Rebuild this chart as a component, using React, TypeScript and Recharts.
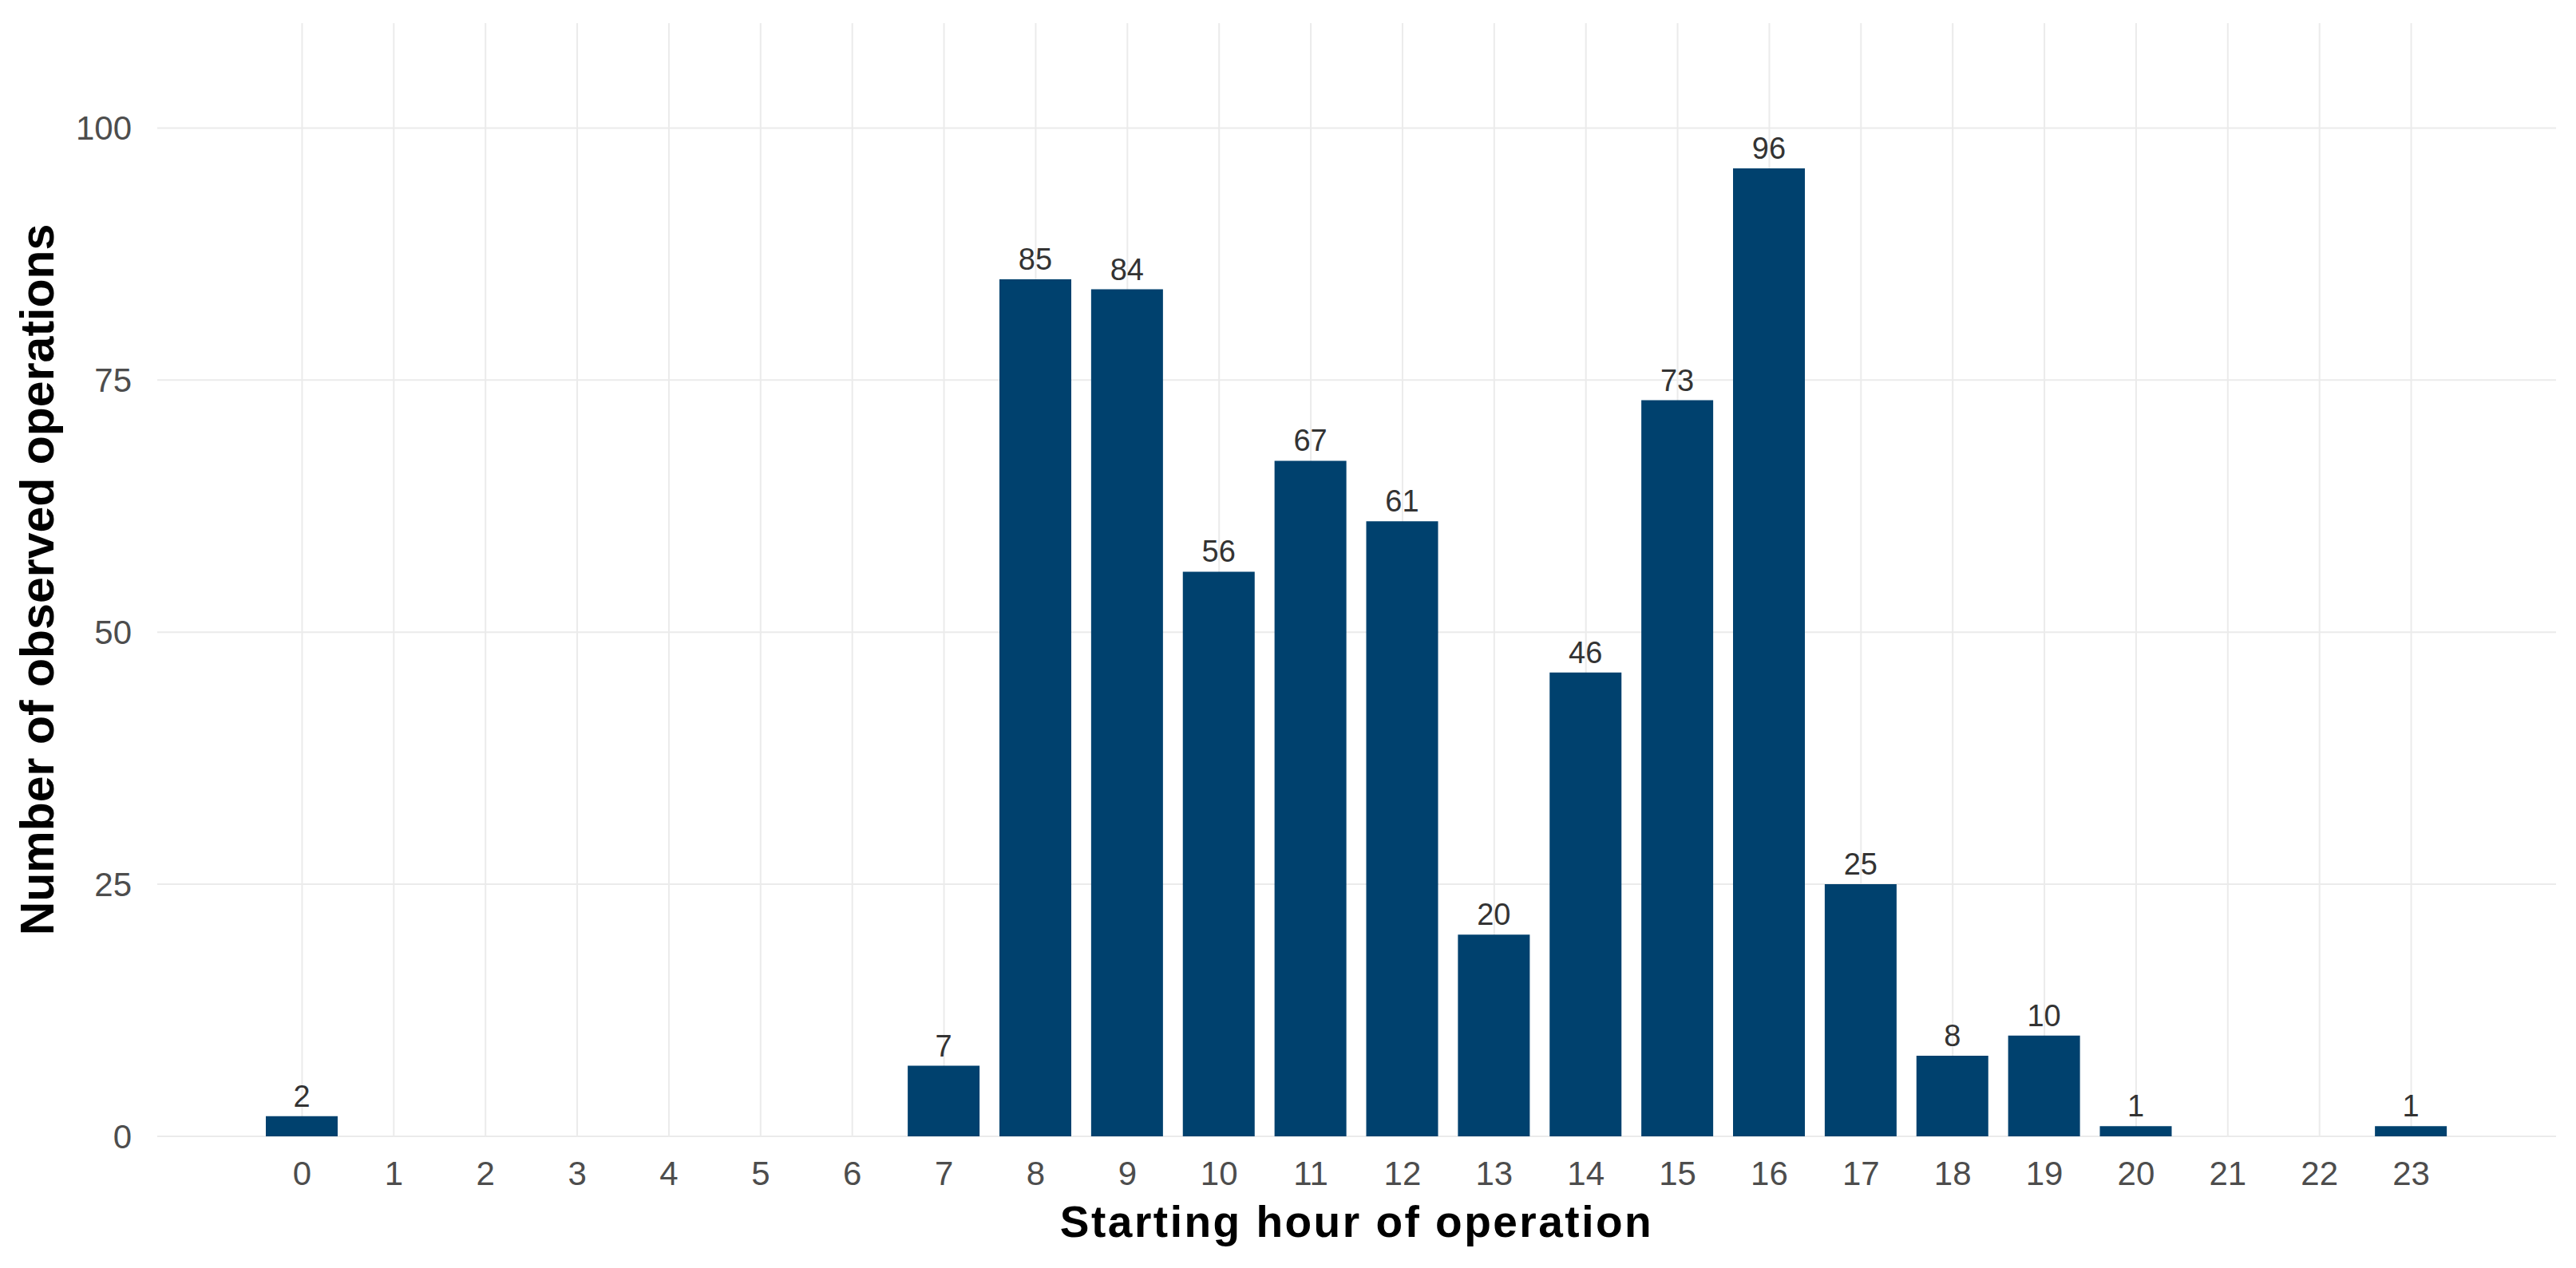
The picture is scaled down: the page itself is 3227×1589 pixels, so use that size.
import React from 'react';
import { BarChart, Bar, XAxis, YAxis, CartesianGrid, LabelList, Label } from 'recharts';

const hours = ['0', '1', '2', '3', '4', '5', '6', '7', '8', '9', '10', '11', '12', '13', '14', '15', '16', '17', '18', '19', '20', '21', '22', '23'];
const counts = [2, 0, 0, 0, 0, 0, 0, 7, 85, 84, 56, 67, 61, 20, 46, 73, 96, 25, 8, 10, 1, 0, 0, 1];
const yTicks = [0, 25, 50, 75, 100];

const data = hours.map((hour, i) => ({ hour, count: counts[i] }));

const FONT = '"Liberation Sans", Arial, sans-serif';

export default function App() {
  return (
    <div style={{ position: 'absolute', left: 0, top: 0, background: '#fff' }}>
      <BarChart
        width={3227}
        height={1589}
        data={data}
        margin={{ top: 29, right: 25, bottom: 0, left: 0 }}
        style={{ fontFamily: FONT }}
      >
        <CartesianGrid stroke="#EBEBEB" strokeWidth={2} syncWithTicks />
        <XAxis
          dataKey="hour"
          type="category"
          height={165}
          padding={{ left: 124, right: 124 }}
          axisLine={false}
          tickLine={false}
          tickSize={0}
          tickMargin={31}
          interval={0}
          tick={{ fontSize: 42, fill: '#4D4D4D', fontFamily: FONT }}
        >
          <Label
            value="Starting hour of operation"
            position="insideBottom"
            offset={39}
            style={{ fontSize: 55, fontWeight: 'bold', fill: '#000', letterSpacing: 2.5, fontFamily: FONT }}
          />
        </XAxis>
        <YAxis
          type="number"
          width={197}
          domain={[0, 110.4]}
          ticks={yTicks}
          axisLine={false}
          tickLine={false}
          tickSize={0}
          tickMargin={32}
          tick={{ fontSize: 42, fill: '#4D4D4D', fontFamily: FONT }}
        >
          <Label
            value="Number of observed operations"
            angle={-90}
            position="insideLeft"
            offset={46}
            style={{ fontSize: 59, fontWeight: 'bold', fill: '#000', textAnchor: 'middle', fontFamily: FONT }}
          />
        </YAxis>
        <Bar dataKey="count" fill="#00416E" barSize={90} isAnimationActive={false}>
          <LabelList
            dataKey="count"
            position="top"
            offset={12}
            formatter={(v: number) => (v > 0 ? v : '')}
            style={{ fontSize: 38, fill: '#333333', fontFamily: FONT }}
          />
        </Bar>
      </BarChart>
    </div>
  );
}
